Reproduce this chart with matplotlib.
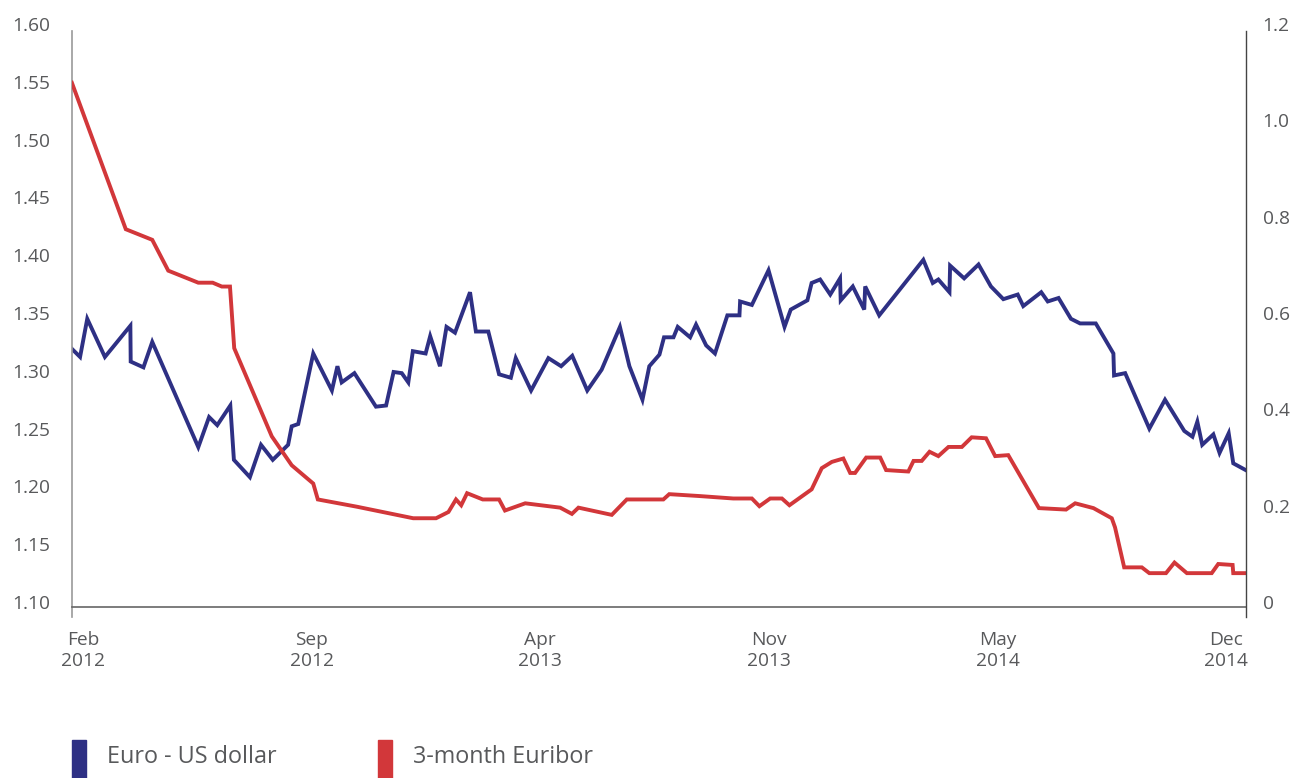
import matplotlib
matplotlib.use("Agg")
import matplotlib.pyplot as plt
from matplotlib.patches import Rectangle

# x values are months counted from Feb 2012
usd_months = [-0.34, -0.09, 0.13, 0.67, 1.45, 1.46, 1.85, 2.12, 3.53, 3.86,
              4.11, 4.51, 4.62, 5.11, 5.45, 5.81, 6.28, 6.39, 6.59, 7.05,
              7.62, 7.79, 7.92, 8.31, 8.97, 9.28, 9.51, 9.76, 9.96, 10.10,
              10.49, 10.63, 10.93, 11.13, 11.39, 11.85, 12.03, 12.41, 12.74, 13.10,
              13.25, 13.72, 14.25, 14.64, 14.98, 15.44, 15.88, 16.44, 16.73, 17.13,
              17.34, 17.65, 17.79, 18.08, 18.21, 18.59, 18.77, 19.08, 19.35, 19.73,
              20.10, 20.12, 20.48, 20.99, 21.48, 21.67, 22.18, 22.31, 22.57, 22.88,
              23.18, 23.20, 23.57, 23.92, 23.95, 24.38, 25.73, 26.02, 26.19, 26.53,
              26.55, 26.98, 27.42, 27.80, 28.18, 28.62, 28.79, 29.34, 29.54, 29.87,
              30.25, 30.53, 31.01, 31.55, 31.57, 31.91, 32.65, 33.13, 33.72, 33.97,
              34.12, 34.27, 34.61, 34.80, 35.08, 35.22, 35.61]
eur_usd = [1.319, 1.312, 1.345, 1.312, 1.339, 1.308, 1.303, 1.325, 1.234, 1.260,
           1.253, 1.270, 1.223, 1.208, 1.236, 1.223, 1.236, 1.252, 1.254, 1.315,
           1.283, 1.304, 1.290, 1.298, 1.269, 1.270, 1.299, 1.298, 1.290, 1.317,
           1.315, 1.330, 1.304, 1.338, 1.333, 1.368, 1.334, 1.334, 1.297, 1.294,
           1.311, 1.283, 1.311, 1.304, 1.313, 1.283, 1.301, 1.338, 1.304, 1.275,
           1.304, 1.314, 1.329, 1.329, 1.338, 1.329, 1.340, 1.322, 1.315, 1.348,
           1.348, 1.360, 1.357, 1.387, 1.338, 1.353, 1.361, 1.376, 1.379, 1.366,
           1.380, 1.361, 1.373, 1.353, 1.373, 1.348, 1.396, 1.376, 1.379, 1.368,
           1.391, 1.380, 1.392, 1.373, 1.362, 1.366, 1.356, 1.368, 1.360, 1.363,
           1.345, 1.341, 1.341, 1.315, 1.296, 1.298, 1.250, 1.275, 1.248, 1.243,
           1.256, 1.236, 1.245, 1.229, 1.246, 1.220, 1.214]

euribor_months = [-0.34, 1.31, 2.12, 2.61, 3.53, 3.97, 4.25, 4.50, 4.63, 5.78,
                  6.39, 7.05, 7.19, 8.38, 10.11, 10.81, 11.19, 11.42, 11.58, 11.76,
                  12.24, 12.74, 12.92, 13.54, 14.61, 14.97, 15.17, 16.19, 16.65, 17.77,
                  17.95, 18.89, 19.91, 20.48, 20.71, 21.04, 21.40, 21.63, 22.31, 22.62,
                  22.93, 23.28, 23.49, 23.64, 23.98, 24.41, 24.59, 25.27, 25.43, 25.68,
                  25.92, 26.19, 26.50, 26.91, 27.21, 27.65, 27.93, 28.33, 29.27, 30.10,
                  30.38, 30.94, 31.50, 31.60, 31.88, 32.42, 32.65, 33.16, 33.42, 33.80,
                  34.56, 34.76, 35.20, 35.22, 35.61]
euribor = [1.078, 0.774, 0.752, 0.688, 0.663, 0.663, 0.655, 0.655, 0.527, 0.344,
           0.284, 0.246, 0.213, 0.198, 0.174, 0.174, 0.187, 0.213, 0.201, 0.226,
           0.213, 0.213, 0.190, 0.205, 0.196, 0.183, 0.196, 0.181, 0.213, 0.213,
           0.224, 0.220, 0.215, 0.215, 0.199, 0.215, 0.215, 0.201, 0.234, 0.278,
           0.291, 0.298, 0.268, 0.268, 0.300, 0.300, 0.274, 0.271, 0.293, 0.293,
           0.312, 0.303, 0.322, 0.322, 0.342, 0.340, 0.303, 0.305, 0.195, 0.192,
           0.205, 0.195, 0.174, 0.155, 0.072, 0.072, 0.060, 0.060, 0.082, 0.060,
           0.060, 0.079, 0.077, 0.060, 0.060]

tick_months = [0, 7, 14, 21, 28, 35]
tick_labels = ["Feb\n2012", "Sep\n2012", "Apr\n2013", "Nov\n2013", "May\n2014", "Dec\n2014"]
left_ticks = [1.10, 1.15, 1.20, 1.25, 1.30, 1.35, 1.40, 1.45, 1.50, 1.55, 1.60]
right_ticks = [0, 0.2, 0.4, 0.6, 0.8, 1.0, 1.2]

blue = "#2e3084"
red = "#d2373a"
grey = "#58595b"

plt.rcParams["font.family"] = ["Open Sans", "DejaVu Sans"]

fig = plt.figure(figsize=(13.08, 7.78), dpi=100)
ax = fig.add_axes([0.05505, 0.2069, 0.8976, 0.76221])
ax2 = ax.twinx()

ax.plot(usd_months, eur_usd, color=blue, lw=2.8, solid_joinstyle="miter")
ax2.plot(euribor_months, euribor, color=red, lw=2.8, solid_joinstyle="miter")

ax.set_xlim(-0.337, 35.612)
ax.set_ylim(1.08702, 1.60)
ax2.set_ylim(-0.0311, 1.2)

ax.set_yticks(left_ticks)
ax.set_yticklabels([f"{v:.2f}" for v in left_ticks])
ax2.set_yticks(right_ticks)
ax2.set_yticklabels(["0" if v == 0 else f"{v:.1f}" for v in right_ticks])
ax.set_xticks(tick_months)
ax.set_xticklabels(tick_labels, linespacing=1.4)

ax.tick_params(axis="y", length=0, pad=15.5, labelsize=13.8, labelcolor=grey)
ax2.tick_params(axis="y", length=0, pad=12, labelsize=13.8, labelcolor=grey)
ax.tick_params(axis="x", length=0, pad=17.5, labelsize=13.8, labelcolor=grey)

for a in (ax, ax2):
    a.spines["top"].set_visible(False)
    a.patch.set_visible(False)
ax.spines["right"].set_visible(False)
ax2.spines["left"].set_visible(False)
ax2.spines["bottom"].set_visible(False)

ax.spines["left"].set_color("#999999")
ax.spines["left"].set_linewidth(1.2)
ax.spines["left"].set_bounds(1.08702, 1.5939)
ax.spines["bottom"].set_position(("data", 1.0957))
ax.spines["bottom"].set_color("#666666")
ax.spines["bottom"].set_linewidth(1.2)
ax2.spines["right"].set_color("#444444")
ax2.spines["right"].set_linewidth(1.0)
ax2.spines["right"].set_bounds(-0.0311, 1.1855)

# legend drawn by hand at the bottom
fig.patches.append(Rectangle((0.05505, 0.0), 0.0107, 0.0488, color=blue,
                             transform=fig.transFigure, figure=fig))
fig.patches.append(Rectangle((0.2890, 0.0), 0.0107, 0.0488, color=red,
                             transform=fig.transFigure, figure=fig))
fig.text(0.0818, 0.0193, "Euro - US dollar", fontsize=16.8, color=grey, va="baseline")
fig.text(0.3157, 0.0193, "3-month Euribor", fontsize=16.8, color=grey, va="baseline")

fig.savefig("out.png", dpi=100)
